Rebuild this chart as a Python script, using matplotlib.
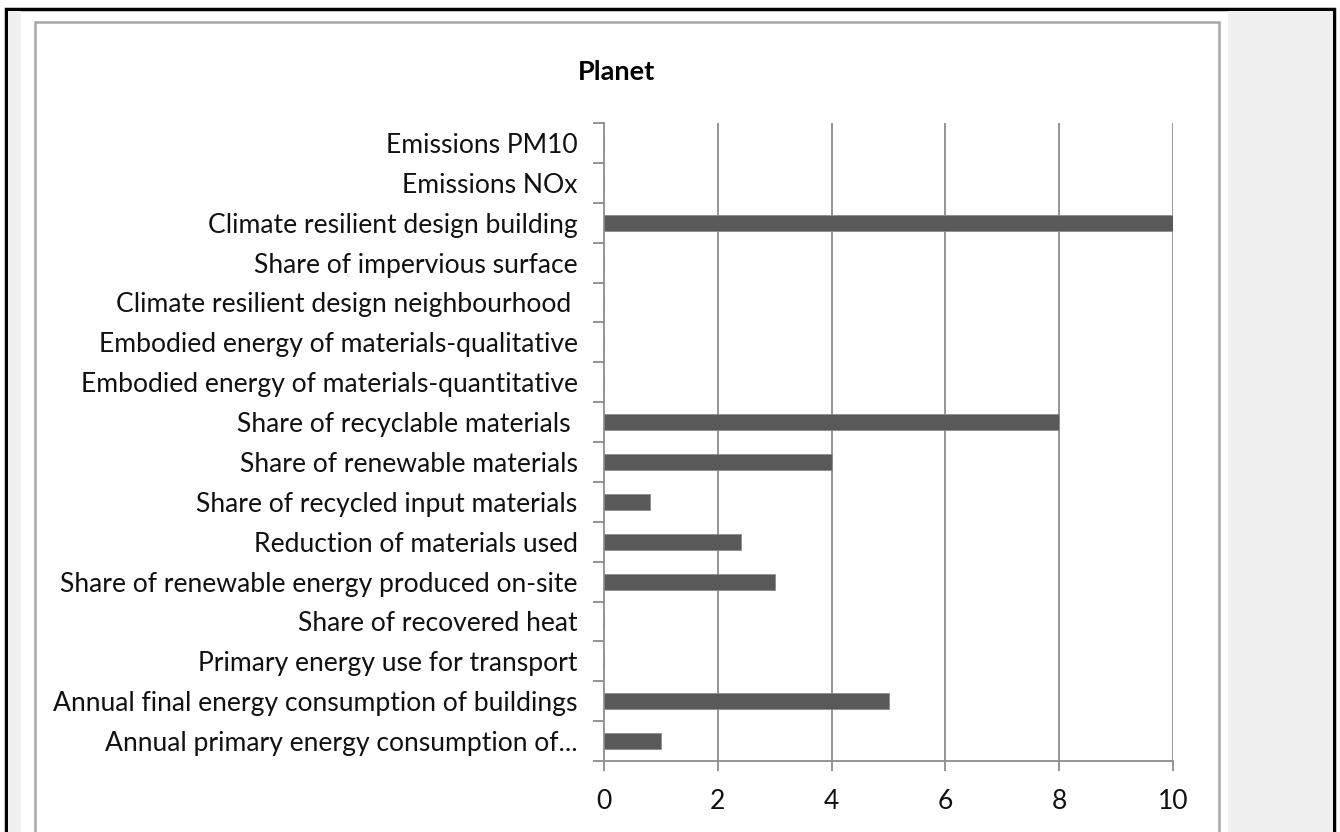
import numpy as np
import matplotlib
matplotlib.use('Agg')
import matplotlib.pyplot as plt
from matplotlib.patches import Rectangle

plt.rcParams['font.family'] = ['Lato', 'DejaVu Sans']

title = 'Planet'
# categories from bottom to top, as Excel draws them
categories = ['Annual primary energy consumption of...',
              'Annual final energy consumption of buildings',
              'Primary energy use for transport',
              'Share of recovered heat',
              'Share of renewable energy produced on-site',
              'Reduction of materials used',
              'Share of recycled input materials',
              'Share of renewable materials',
              'Share of recyclable materials ',
              'Embodied energy of materials-quantitative',
              'Embodied energy of materials-qualitative',
              'Climate resilient design neighbourhood ',
              'Share of impervious surface',
              'Climate resilient design building',
              'Emissions NOx',
              'Emissions PM10']
values = [1, 5, 0, 0, 3, 2.4, 0.8, 4, 8, 0, 0, 0, 0, 10, 0, 0]
xticks = [0, 2, 4, 6, 8, 10]

W, H = 1340, 832
fig = plt.figure(figsize=(W/100, H/100), dpi=100)

# page background / frames in pixel coords
bg = fig.add_axes([0, 0, 1, 1], zorder=-5)
bg.set_xlim(0, W)
bg.set_ylim(H, 0)
bg.axis('off')
bg.add_patch(Rectangle((6, 9), 1328, 830, fc='white', ec='black', lw=2.5))
bg.add_patch(Rectangle((7.5, 10.5), 13, 830, fc='#f0f0f0', ec='none'))
bg.add_patch(Rectangle((1228, 10.5), 105, 830, fc='#f0f0f0', ec='none'))
bg.add_patch(Rectangle((35, 22), 1184, 820, fc='white', ec='#a6a6a6', lw=1.8))

ax = fig.add_axes([604/W, 71/H, (1173-604)/W, (761-123)/H])
ypos = np.arange(len(categories))
ax.barh(ypos, values, height=0.4, color='#595959', edgecolor='#8c8c8c', linewidth=0.6, zorder=3)
ax.set_xlim(0, 10)
ax.set_ylim(-0.5, len(categories) - 0.5)

ax.set_xticks(xticks)
ax.set_xticklabels([str(t) for t in xticks])
ax.set_yticks(ypos)
ax.set_yticklabels(categories)
ax.set_yticks(np.arange(-0.5, len(categories), 1), minor=True)

ax.tick_params(axis='y', which='major', length=0, pad=19, labelsize=19.1, labelcolor='#111111')
ax.tick_params(axis='y', which='minor', length=8, width=1.3, color='#8c8c8c', direction='out')
ax.tick_params(axis='x', which='major', length=7, width=1.3, color='#8c8c8c', pad=13,
               labelsize=19.1, labelcolor='#111111')

for sp in ['top', 'right']:
    ax.spines[sp].set_visible(False)
for sp in ['left', 'bottom']:
    ax.spines[sp].set_color('#8c8c8c')
    ax.spines[sp].set_linewidth(1.3)

for t in xticks[1:]:
    ax.axvline(t, color='#8c8c8c', lw=1.3, zorder=1)

fig.text(617/W, 1 - 72/H, title, ha='center', va='center', fontsize=19.5, fontweight='bold')

fig.savefig('out.png', dpi=100)
